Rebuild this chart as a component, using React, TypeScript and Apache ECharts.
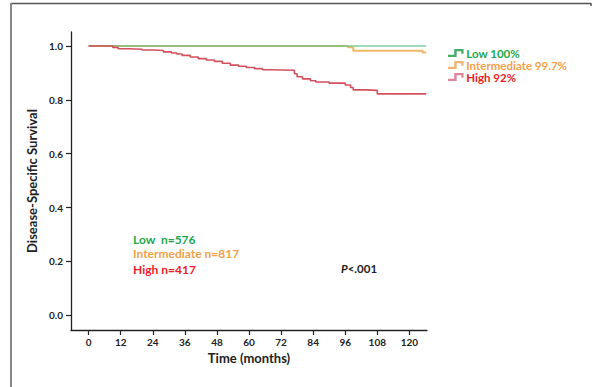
import React, { useEffect, useRef } from "react";
import * as echarts from "echarts";

// Kaplan-Meier curves: months and disease-specific survival
const lowMonths = [0, 126.3];
const lowSurv = [1.0, 1.0];

const interMonths = [0, 97, 99, 125, 126.3];
const interSurv = [1.0, 0.995, 0.982, 0.976, 0.976];

const highMonths = [0, 3, 9, 11, 15, 20, 24, 28, 31, 33, 35, 38, 41, 44, 47, 50, 53, 56, 59, 62, 65, 68, 77, 78, 80, 83, 85, 90, 96, 98, 99, 104, 108, 126.3];
const highSurv = [1.0, 1.0, 0.995, 0.99, 0.988, 0.985, 0.983, 0.978, 0.974, 0.97, 0.965, 0.959, 0.953, 0.948, 0.943, 0.936, 0.929, 0.925, 0.92, 0.916, 0.912, 0.91, 0.897, 0.886, 0.878, 0.871, 0.866, 0.862, 0.855, 0.846, 0.837, 0.835, 0.822, 0.822];

const xTicks = [0, 12, 24, 36, 48, 60, 72, 84, 96, 108, 120];
const yTicks = [0, 0.2, 0.4, 0.6, 0.8, 1.0];

const seriesNames = ["Low 100%", "Intermediate 99.7%", "High 92%"];
const groupLabels = ["Low  n=576", "Intermediate n=817", "High n=417"];

const FONT = "Lato, 'Open Sans', sans-serif";
const stepIcon = "path://M0,5.2 L5.6,5.2 L5.6,0 L14,0 L14,4.2 L12,4.2 L12,2 L7.8,2 L7.8,7.2 L0,7.2 Z";

function zip(a: number[], b: number[]) {
  return a.map((v, i) => [v, b[i]]);
}

export default function App() {
  const ref = useRef<HTMLDivElement>(null);
  useEffect(() => {
    if (!ref.current) return;
    const chart = echarts.init(ref.current, undefined, { renderer: "svg" });
    const lineColors = ["#5cc487", "#f2b868", "#d5505e"];
    const iconColors = ["#44ad6c", "#eeb574", "#e0859a"];
    const textColors = ["#1ea84b", "#f5a04a", "#ec2227"];
    const legendText = (c: string) => ({
      color: c,
      fontFamily: FONT,
      fontWeight: "bold",
      fontSize: 11.5,
      padding: [0, 0, 0, -3],
    });
    chart.setOption({
      animation: false,
      backgroundColor: "#ffffff",
      grid: { left: 71, right: 168, top: 32, bottom: 57, containLabel: false },
      xAxis: {
        type: "value",
        min: -6.6,
        max: 126.6,
        name: "Time (months)",
        nameLocation: "middle",
        nameGap: 20,
        nameTextStyle: { fontFamily: FONT, fontWeight: "bold", fontSize: 13, color: "#222" },
        splitLine: { show: false },
        axisLine: { show: true, onZero: false, lineStyle: { color: "#222", width: 1.3 } },
        axisTick: { show: true, length: 5, customValues: xTicks, lineStyle: { color: "#222", width: 1.2 } },
        axisLabel: {
          customValues: xTicks,
          margin: 7,
          fontFamily: FONT,
          fontWeight: "bold",
          fontSize: 10,
          color: "#222",
        },
      },
      yAxis: {
        type: "value",
        min: -0.055,
        max: 1.052,
        name: "Disease-Specific Survival",
        nameLocation: "middle",
        nameGap: 29,
        nameRotate: 90,
        nameTextStyle: { fontFamily: FONT, fontWeight: "bold", fontSize: 13, color: "#222" },
        splitLine: { show: false },
        axisLine: { show: true, onZero: false, lineStyle: { color: "#222", width: 1.3 } },
        axisTick: { show: true, length: 5, customValues: yTicks, lineStyle: { color: "#222", width: 1.2 } },
        axisLabel: {
          customValues: yTicks,
          margin: 8,
          formatter: (v: number) => v.toFixed(1),
          fontFamily: FONT,
          fontWeight: "bold",
          fontSize: 10,
          color: "#222",
        },
      },
      legend: {
        orient: "vertical",
        left: 443,
        top: 42,
        itemGap: 0,
        itemWidth: 17,
        itemHeight: 8,
        icon: stepIcon,
        textStyle: legendText("#222"),
        data: seriesNames.map((n, i) => ({
          name: n,
          itemStyle: { color: iconColors[i] },
          textStyle: legendText(textColors[i]),
        })),
      },
      series: [
        {
          name: seriesNames[1],
          type: "line",
          step: "end",
          symbol: "none",
          z: 2,
          data: zip(interMonths, interSurv),
          itemStyle: { color: iconColors[1] },
          lineStyle: { color: lineColors[1], width: 2 },
        },
        {
          name: seriesNames[0],
          type: "line",
          step: "end",
          symbol: "none",
          z: 3,
          data: zip(lowMonths, lowSurv),
          itemStyle: { color: iconColors[0] },
          lineStyle: { color: lineColors[0], width: 2, opacity: 0.6 },
        },
        {
          name: seriesNames[2],
          type: "line",
          step: "end",
          symbol: "none",
          z: 4,
          data: zip(highMonths, highSurv),
          itemStyle: { color: iconColors[2] },
          lineStyle: { color: lineColors[2], width: 1.6 },
        },
      ],
      graphic: [
        { type: "line", shape: { x1: 11, y1: 3.5, x2: 591, y2: 3.5 }, style: { stroke: "#555", lineWidth: 1.5 } },
        { type: "line", shape: { x1: 591, y1: 3, x2: 591, y2: 6 }, style: { stroke: "#555", lineWidth: 1.5 } },
        { type: "line", shape: { x1: 11, y1: 3, x2: 11, y2: 387 }, style: { stroke: "#888", lineWidth: 2 } },
        ...groupLabels.map((t, i) => ({
          type: "text",
          x: 133,
          y: [233, 247.5, 263][i],
          style: { text: t, fill: textColors[i], font: `bold 12px ${FONT}` },
        })),
        {
          type: "text",
          x: 341,
          y: 262,
          style: {
            text: "{p|P}{r|<.001}",
            rich: {
              p: { fontFamily: FONT, fontStyle: "italic", fontWeight: "bold", fontSize: 11.5, fill: "#222" },
              r: { fontFamily: FONT, fontWeight: "bold", fontSize: 11.5, fill: "#222" },
            },
          },
        },
      ],
    });
    return () => chart.dispose();
  }, []);
  return (
    <div
      ref={ref}
      style={{ position: "absolute", left: 0, top: 0, width: 595, height: 387, background: "#fff" }}
    />
  );
}
